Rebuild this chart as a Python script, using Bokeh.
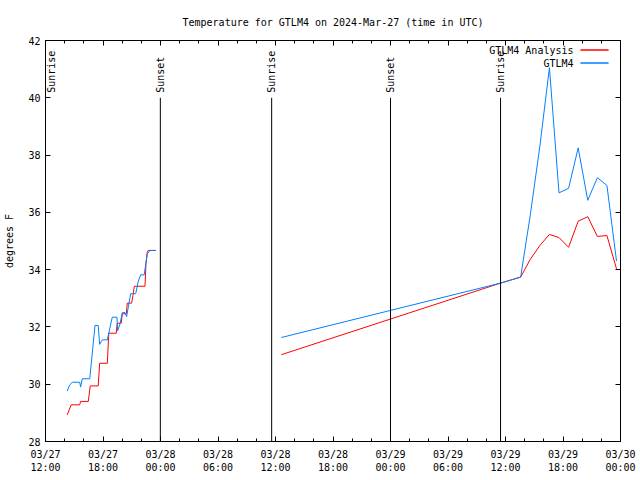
import math
import pandas as pd
from bokeh.plotting import figure
from bokeh.models import (ColumnDataSource, FixedTicker, DatetimeTickFormatter, DatetimeAxis,
                          LinearAxis, Range1d, Arrow, Label, BoxAnnotation)
from bokeh.embed import file_html
from bokeh.resources import INLINE

FONT = "DejaVu Sans Mono"

title_text = "Temperature for GTLM4 on 2024-Mar-27 (time in UTC)"
y_label = "degrees F"
y_ticks = [28, 30, 32, 34, 36, 38, 40, 42]
x_start = "2024-03-27 12:00"
x_end = "2024-03-30 00:00"
x_tick_times = ["2024-03-27 12:00", "2024-03-27 18:00", "2024-03-28 00:00", "2024-03-28 06:00",
                "2024-03-28 12:00", "2024-03-28 18:00", "2024-03-29 00:00", "2024-03-29 06:00",
                "2024-03-29 12:00", "2024-03-29 18:00", "2024-03-30 00:00"]
x_tick_format = "%m/%d\n%H:%M"

series_names = ["GTLM4 Analysis", "GTLM4"]
series_colors = ["#ff0000", "#0080ff"]

analysis_times = [
    "2024-03-27 14:16", "2024-03-27 14:41", "2024-03-27 15:34", "2024-03-27 15:40",
    "2024-03-27 16:28", "2024-03-27 16:40", "2024-03-27 17:30", "2024-03-27 17:39",
    "2024-03-27 18:27", "2024-03-27 18:36", "2024-03-27 19:23", "2024-03-27 19:29",
    "2024-03-27 19:54", "2024-03-27 20:01", "2024-03-27 20:26", "2024-03-27 20:32",
    "2024-03-27 20:59", "2024-03-27 21:08", "2024-03-27 21:16", "2024-03-27 21:45",
    "2024-03-27 22:23", "2024-03-27 22:29", "2024-03-27 22:37", "2024-03-27 22:43",
    "2024-03-27 23:30", "2024-03-28 06:00",
    "2024-03-28 12:36", "2024-03-29 11:29", "2024-03-29 13:35", "2024-03-29 14:35",
    "2024-03-29 15:35", "2024-03-29 16:35", "2024-03-29 17:35", "2024-03-29 18:35",
    "2024-03-29 19:35", "2024-03-29 20:35", "2024-03-29 21:35", "2024-03-29 22:35",
    "2024-03-29 23:35"]
analysis_temps = [
    28.93, 29.28, 29.28, 29.40,
    29.40, 29.94, 29.94, 30.73,
    30.73, 31.78, 31.78, 32.13,
    32.13, 32.46, 32.46, 32.83,
    32.83, 33.10, 33.42, 33.42,
    33.42, 34.20, 34.60, 34.67,
    34.67, float("nan"),
    31.03, 33.53, 33.74, 34.36,
    34.84, 35.23, 35.12, 34.78,
    35.69, 35.85, 35.16, 35.19,
    34.03]

obs_times = [
    "2024-03-27 14:16", "2024-03-27 14:27", "2024-03-27 14:36", "2024-03-27 14:48",
    "2024-03-27 15:34", "2024-03-27 15:40", "2024-03-27 15:50", "2024-03-27 16:37",
    "2024-03-27 17:10", "2024-03-27 17:30", "2024-03-27 17:39", "2024-03-27 17:56",
    "2024-03-27 18:27", "2024-03-27 18:58", "2024-03-27 19:27", "2024-03-27 19:32",
    "2024-03-27 19:46", "2024-03-27 20:01", "2024-03-27 20:18", "2024-03-27 20:28",
    "2024-03-27 20:53", "2024-03-27 21:25", "2024-03-27 21:41", "2024-03-27 21:56",
    "2024-03-27 22:18", "2024-03-27 22:37", "2024-03-27 22:54", "2024-03-27 23:30",
    "2024-03-28 06:00",
    "2024-03-28 12:36", "2024-03-29 11:29", "2024-03-29 13:35", "2024-03-29 14:35",
    "2024-03-29 15:35", "2024-03-29 16:35", "2024-03-29 17:35", "2024-03-29 18:35",
    "2024-03-29 19:35", "2024-03-29 20:35", "2024-03-29 21:35", "2024-03-29 22:35",
    "2024-03-29 23:35"]
obs_temps = [
    29.76, 29.92, 30.00, 30.07,
    30.07, 29.90, 30.19, 30.19,
    32.05, 32.05, 31.39, 31.55,
    31.55, 32.34, 32.34, 31.87,
    32.10, 32.50, 32.50, 32.36,
    33.16, 33.16, 33.60, 33.82,
    33.82, 34.55, 34.67, 34.67,
    float("nan"),
    31.63, 33.53, 33.74, 35.90,
    38.30, 41.05, 36.68, 36.84,
    38.25, 36.42, 37.21, 36.94,
    34.30]

event_times = ["2024-03-27 11:39", "2024-03-27 23:59", "2024-03-28 11:36",
               "2024-03-29 00:00", "2024-03-29 11:29"]
event_names = ["Sunrise", "Sunset", "Sunrise", "Sunset", "Sunrise"]
event_bottom = 28
event_top = 40


def ms(times):
    return [int(v) for v in (pd.to_datetime(times).asi8 // 10**6)]


x_ticks_ms = ms(x_tick_times)
step = (x_ticks_ms[1] - x_ticks_ms[0]) // 3
x_minor_ms = list(range(x_ticks_ms[0], x_ticks_ms[-1] + 1, step))

p = figure(x_axis_type="datetime", frame_width=575, frame_height=401,
           min_border_left=45, min_border_right=18, min_border_top=40, min_border_bottom=39,
           x_range=Range1d(pd.Timestamp(x_start), pd.Timestamp(x_end)),
           y_range=Range1d(y_ticks[0], y_ticks[-1]),
           output_backend="svg", toolbar_location=None, title=title_text)

p.background_fill_color = "white"
p.border_fill_color = "white"
p.outline_line_color = "black"
p.outline_line_alpha = 1
p.xgrid.visible = False
p.ygrid.visible = False

p.title.align = "center"
p.title.text_font = FONT
p.title.text_font_size = "10px"
p.title.text_font_style = "normal"
p.title.text_color = "black"
p.title.standoff = 25

fmt = DatetimeTickFormatter(
    microseconds=x_tick_format, milliseconds=x_tick_format, seconds=x_tick_format,
    minsec=x_tick_format, minutes=x_tick_format, hourmin=x_tick_format,
    hours=x_tick_format, days=x_tick_format, months=x_tick_format, years=x_tick_format)

xt = FixedTicker(ticks=x_ticks_ms, minor_ticks=x_minor_ms)
yt = FixedTicker(ticks=y_ticks)


def style(ax, labels=True, minor=True):
    ax.axis_line_color = "black"
    ax.major_tick_line_color = "black"
    ax.major_tick_in = 5
    ax.major_tick_out = 0
    if minor:
        ax.minor_tick_line_color = "black"
        ax.minor_tick_in = 3
        ax.minor_tick_out = 0
    else:
        ax.minor_tick_line_color = None
    ax.major_label_text_font = FONT
    if labels:
        ax.major_label_text_font_size = "10px"
        ax.major_label_text_color = "black"
    else:
        ax.major_label_text_font_size = "1px"
        ax.major_label_text_color = None
    ax.axis_label_text_font = FONT
    ax.axis_label_text_font_size = "10px"
    ax.axis_label_text_font_style = "normal"
    ax.axis_label_text_color = "black"


xa = p.xaxis[0]
xa.ticker = xt
xa.formatter = fmt
style(xa)
xa.major_label_standoff = 7

ya = p.yaxis[0]
ya.ticker = yt
ya.axis_label = y_label
style(ya, minor=False)
ya.major_label_standoff = 5
ya.axis_label_standoff = 10

top_ax = DatetimeAxis(ticker=xt, formatter=fmt)
style(top_ax, labels=False)
top_ax.major_label_standoff = 0
p.add_layout(top_ax, "above")

right_ax = LinearAxis(ticker=yt)
style(right_ax, labels=False, minor=False)
right_ax.major_label_standoff = 0
p.add_layout(right_ax, "right")

# day/night event markers
ev = ColumnDataSource(dict(t=pd.to_datetime(event_times), name=event_names,
                           y0=[event_bottom] * len(event_times), y1=[event_top] * len(event_times)))
p.add_layout(Arrow(x_start="t", y_start="y0", x_end="t", y_end="y1", source=ev, end=None,
                   line_color="black", line_width=1))
# annotations in the plot area are clipped to it: an event before the first
# tick is labelled just inside the left edge
t0 = pd.Timestamp(x_start)
for t, name in zip(event_times, event_names):
    ts = pd.Timestamp(t)
    inside = ts >= t0
    p.add_layout(Label(x=ts if inside else t0, y=event_top, text=name, angle=math.pi / 2,
                       text_align="left", text_baseline="middle", y_offset=5,
                       x_offset=0 if inside else 6,
                       text_font=FONT, text_font_size="10px", text_color="black"))

# series
src_a = ColumnDataSource(dict(t=pd.to_datetime(analysis_times), v=analysis_temps))
src_o = ColumnDataSource(dict(t=pd.to_datetime(obs_times), v=obs_temps))
p.line("t", "v", source=src_a, line_color=series_colors[0], line_width=1)
p.line("t", "v", source=src_o, line_color=series_colors[1], line_width=1)

# legend (text right-aligned, sample line to the right, as in the original)
for i, (name, col) in enumerate(zip(series_names, series_colors)):
    yy = 391.5 - 13 * i
    p.add_layout(Label(x=528, y=yy, x_units="screen", y_units="screen", text=name,
                       text_align="right", text_baseline="middle", text_font=FONT,
                       text_font_size="10px", text_color="black"))
    p.add_layout(BoxAnnotation(left=535, right=563, bottom=yy, top=yy,
                               left_units="screen", right_units="screen",
                               top_units="screen", bottom_units="screen",
                               fill_alpha=0, line_color=col, line_width=1, line_alpha=1))

open("out.html", "w").write(file_html(p, INLINE))
